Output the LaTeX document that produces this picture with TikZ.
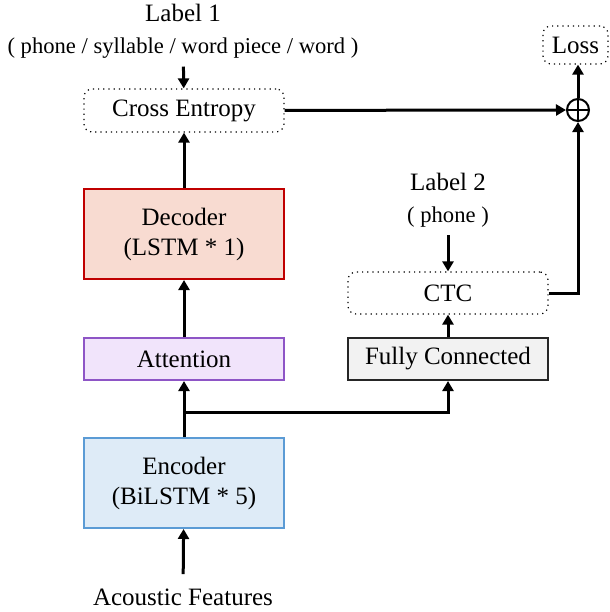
\documentclass[tikz,border=0pt]{standalone}
\usepackage{fontspec}
\setmainfont{Liberation Serif}
\usetikzlibrary{arrows.meta}
\definecolor{decfill}{HTML}{F8DBD1}
\definecolor{decline}{HTML}{C00000}
\definecolor{attfill}{HTML}{F1E4FB}
\definecolor{attline}{HTML}{8E55C6}
\definecolor{encfill}{HTML}{DEEBF7}
\definecolor{encline}{HTML}{5B9BD5}
\definecolor{fcfill}{HTML}{F2F2F2}
\definecolor{fcline}{HTML}{262626}
\newcommand{\sublabel}[1]{{\fontsize{11.3}{15.5}\selectfont #1}}
\tikzset{every node/.style={font=\fontsize{12.5}{15}\selectfont, align=center},
 block/.style={draw, line width=1pt, minimum width=100pt, inner sep=0pt},
 lossbox/.style={draw, dotted, line width=0.6pt, rounded corners=4pt, inner sep=0pt},
 flow/.style={draw, line width=1.5pt, -{Triangle[length=5pt,width=5.5pt]}},
 }

\begin{document}
\begin{tikzpicture}[x=0.5pt, y=-0.5pt]
        \useasboundingbox (0, 0) rectangle (610, 612);
        \node[inner ysep=4pt] (lab1) at (183, 31) {Label 1\\[1pt]\sublabel{( phone / syllable / word piece / word )}};
        \node[lossbox, minimum width=100pt, minimum height=21.5pt] (ce) at (184, 110.5) {Cross Entropy};
        \node[block, fill=decfill, draw=decline, minimum height=45pt] (dec) at (184, 234) {Decoder\\(LSTM * 1)};
        \node[block, fill=attfill, draw=attline, minimum height=21pt] (att) at (184, 359) {Attention};
        \node[block, fill=encfill, draw=encline, minimum height=45pt] (enc) at (184, 483) {Encoder\\(BiLSTM * 5)};
        \node[inner ysep=7pt] (feat) at (183, 597) {Acoustic Features};
        \node[inner ysep=4pt] (lab2) at (448, 200) {Label 2\\[1pt]\sublabel{( phone )}};
        \node[lossbox, minimum width=100pt, minimum height=21pt] (ctc) at (448, 293) {CTC};
        \node[block, fill=fcfill, draw=fcline, minimum height=21pt] (fc) at (448, 359) {Fully Connected};
        \node[lossbox, minimum width=32.5pt, minimum height=19pt] (loss) at (575.5, 45) {Loss};
        \node[circle, draw, line width=1pt, minimum size=11pt, inner sep=0pt] (plus) at (578, 110) {};
        \draw[line width=1pt] (plus.north) -- (plus.south) (plus.west) -- (plus.east);
        \coordinate (split) at (184, 412);

        \draw[flow] (lab1) -- (ce);
        \draw[flow] (dec) -- (ce);
        \draw[flow] (att) -- (dec);
        \draw[flow] (enc) -- (att);
        \draw[flow] (split) -| (fc.south);
        \draw[flow] (feat) -- (enc);
        \draw[flow] (fc) -- (ctc);
        \draw[flow] (lab2) -- (ctc);
        \draw[flow] (ce) -- (plus);
        \draw[flow] (ctc.east) -| (plus.south);
        \draw[flow] (plus.north) -- (plus.north |- loss.south);
    \end{tikzpicture}
\end{document}
